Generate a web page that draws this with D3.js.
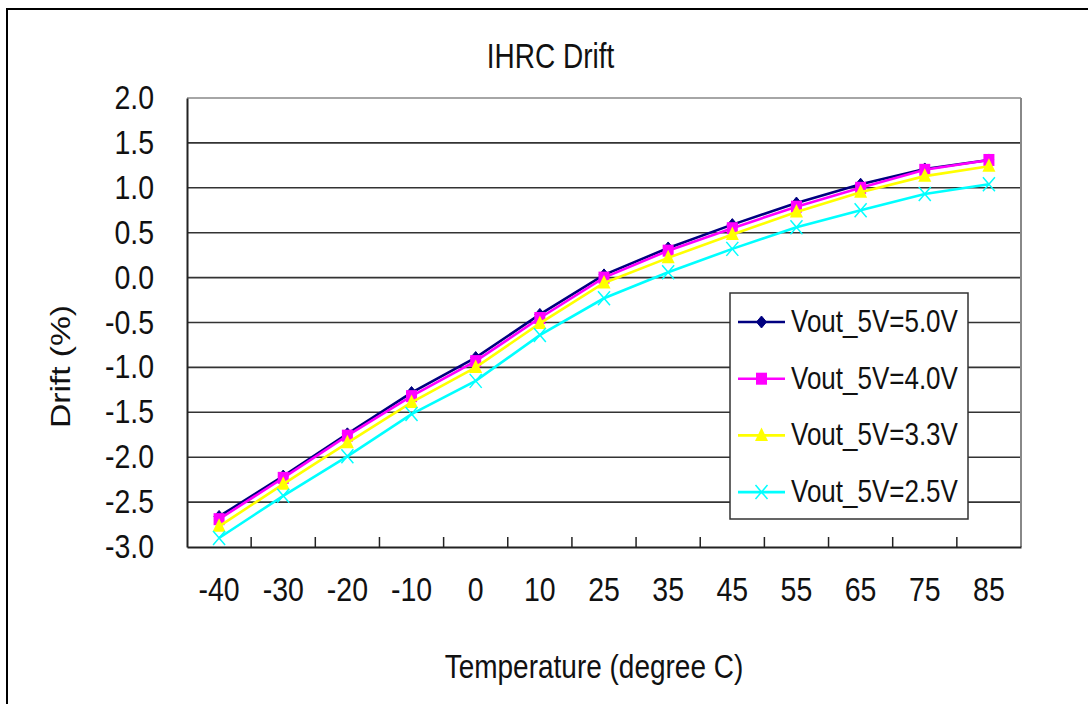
<!DOCTYPE html>
<html>
<head>
<meta charset="utf-8">
<script src="https://cdn.jsdelivr.net/npm/d3@7"></script>
<style>
  html, body { margin: 0; padding: 0; background: #fff; }
  svg { display: block; }
  text { font-family: "Liberation Sans", Arial, sans-serif; fill: #111; }
</style>
</head>
<body>
<svg id="chart" width="1088" height="704"></svg>
<script>
const categories = ["-40", "-30", "-20", "-10", "0", "10", "25", "35", "45", "55", "65", "75", "85"];
const yTicks = [2.0, 1.5, 1.0, 0.5, 0.0, -0.5, -1.0, -1.5, -2.0, -2.5, -3.0];
const seriesNames = ["Vout_5V=5.0V", "Vout_5V=4.0V", "Vout_5V=3.3V", "Vout_5V=2.5V"];
const v50 = [-2.66, -2.21, -1.74, -1.28, -0.89, -0.41, 0.03, 0.33, 0.59, 0.83, 1.04, 1.21, 1.31];
const v40 = [-2.69, -2.23, -1.76, -1.32, -0.93, -0.45, 0.00, 0.30, 0.55, 0.79, 1.00, 1.20, 1.31];
const v33 = [-2.77, -2.30, -1.84, -1.39, -1.00, -0.51, -0.06, 0.22, 0.48, 0.73, 0.95, 1.13, 1.24];
const v25 = [-2.90, -2.43, -1.99, -1.52, -1.15, -0.64, -0.23, 0.06, 0.32, 0.56, 0.75, 0.93, 1.04];
const seriesValues = [v50, v40, v33, v25];
const colors = ["#000080", "#FF00FF", "#FFFF00", "#00FFFF"];
const markers = ["diamond", "square", "triangle", "x"];

const svg = d3.select("#chart");
const L = 187, R = 1021, T = 98, B = 547;
const K = 1.2; // vertical stretch of the original text

// outer chart frame
svg.append("rect").attr("x", 7).attr("y", 9).attr("width", 1090).attr("height", 710)
  .attr("fill", "#fff").attr("stroke", "#000").attr("stroke-width", 2);

const x = d3.scaleBand().domain(categories).range([L, R]).padding(0);
const y = d3.scaleLinear().domain([-3, 2]).range([B, T]);
const cx = c => x(c) + x.bandwidth() / 2;

// gridlines
svg.append("g").selectAll("line").data(yTicks.filter(v => v > -3)).join("line")
  .attr("x1", L).attr("x2", R).attr("y1", d => y(d)).attr("y2", d => y(d))
  .attr("stroke", d => d === 2 ? "#888" : "#333").attr("stroke-width", 1.6);

// right border
svg.append("line").attr("x1", R).attr("x2", R).attr("y1", T).attr("y2", B)
  .attr("stroke", "#888").attr("stroke-width", 2);

// y axis
const yAxis = d3.axisLeft(y).tickValues(yTicks).tickSize(0).tickPadding(33)
  .tickFormat(d => d.toFixed(1));
const gy = svg.append("g").attr("transform", `translate(${L},0)`).call(yAxis);
gy.select(".domain").attr("stroke", "#222").attr("stroke-width", 2);
gy.selectAll(".tick text").attr("x", null).attr("dy", null)
  .attr("text-anchor", "end")
  .attr("transform", `translate(-33,10.5) scale(1,${1.18})`)
  .style("font-size", "28.5px")
  .attr("font-family", "Liberation Sans, Arial, sans-serif").attr("fill", "#111");

// x axis with ticks on band boundaries (inside)
const xAxis = d3.axisBottom(x).tickSize(0).tickPadding(30);
const gx = svg.append("g").attr("transform", `translate(0,${B})`).call(xAxis);
gx.select(".domain").attr("stroke", "#222").attr("stroke-width", 2);
gx.selectAll(".tick text").attr("y", null).attr("dy", null)
  .attr("transform", `translate(0,53.5) scale(1,${1.18})`)
  .style("font-size", "28.5px")
  .attr("font-family", "Liberation Sans, Arial, sans-serif").attr("fill", "#111");
svg.append("g").selectAll("line").data(categories.slice(1)).join("line")
  .attr("x1", d => x(d)).attr("x2", d => x(d)).attr("y1", B).attr("y2", B - 10)
  .attr("stroke", "#222").attr("stroke-width", 1.5);

// marker drawing
function drawMarker(g, type, color, px, py) {
  if (type === "diamond") {
    g.append("path").attr("d", `M${px},${py-6}L${px+5},${py}L${px},${py+6}L${px-5},${py}Z`)
      .attr("fill", color).attr("stroke", color).attr("stroke-width", 1);
  } else if (type === "square") {
    g.append("rect").attr("x", px - 5.5).attr("y", py - 6).attr("width", 11).attr("height", 12)
      .attr("fill", color);
  } else if (type === "triangle") {
    g.append("path").attr("d", `M${px},${py-8}L${px+6.5},${py+5.5}L${px-6.5},${py+5.5}Z`)
      .attr("fill", color);
  } else {
    g.append("path").attr("d", `M${px-6},${py-7}L${px+6},${py+7}M${px-6},${py+7}L${px+6},${py-7}`)
      .attr("stroke", color).attr("stroke-width", 1.5).attr("fill", "none");
  }
}

// series
const line = d3.line().x((d, i) => cx(categories[i])).y(d => y(d));
seriesValues.forEach((vals, si) => {
  const g = svg.append("g");
  g.append("path").datum(vals).attr("d", line).attr("fill", "none")
    .attr("stroke", colors[si]).attr("stroke-width", 2.6);
  vals.forEach((v, i) => drawMarker(g, markers[si], colors[si], cx(categories[i]), y(v)));
});

// legend
const lg = svg.append("g");
lg.append("rect").attr("x", 730).attr("y", 293).attr("width", 238).attr("height", 226)
  .attr("fill", "#fff").attr("stroke", "#333").attr("stroke-width", 1.5);
seriesNames.forEach((name, i) => {
  const ly = 322 + i * 56.7;
  lg.append("line").attr("x1", 738).attr("x2", 785).attr("y1", ly).attr("y2", ly)
    .attr("stroke", colors[i]).attr("stroke-width", 2.6);
  drawMarker(lg, markers[i], colors[i], 761.5, ly);
  lg.append("text").attr("transform", `translate(791,${ly + 10}) scale(1,${K})`)
    .style("font-size", "26px").text(name);
});

// titles
svg.append("text").attr("transform", `translate(550.5,68.3) scale(1,${1.24})`)
  .attr("text-anchor", "middle").style("font-size", "28px").text("IHRC Drift");
svg.append("text").attr("transform", `translate(594,677.5) scale(1,${K})`)
  .attr("text-anchor", "middle").style("font-size", "28px").text("Temperature (degree C)");
svg.append("text").attr("transform", `translate(70,366.5) scale(1,${K}) rotate(-90)`)
  .attr("text-anchor", "middle").style("font-size", "28px").text("Drift (%)");
</script>
</body>
</html>
